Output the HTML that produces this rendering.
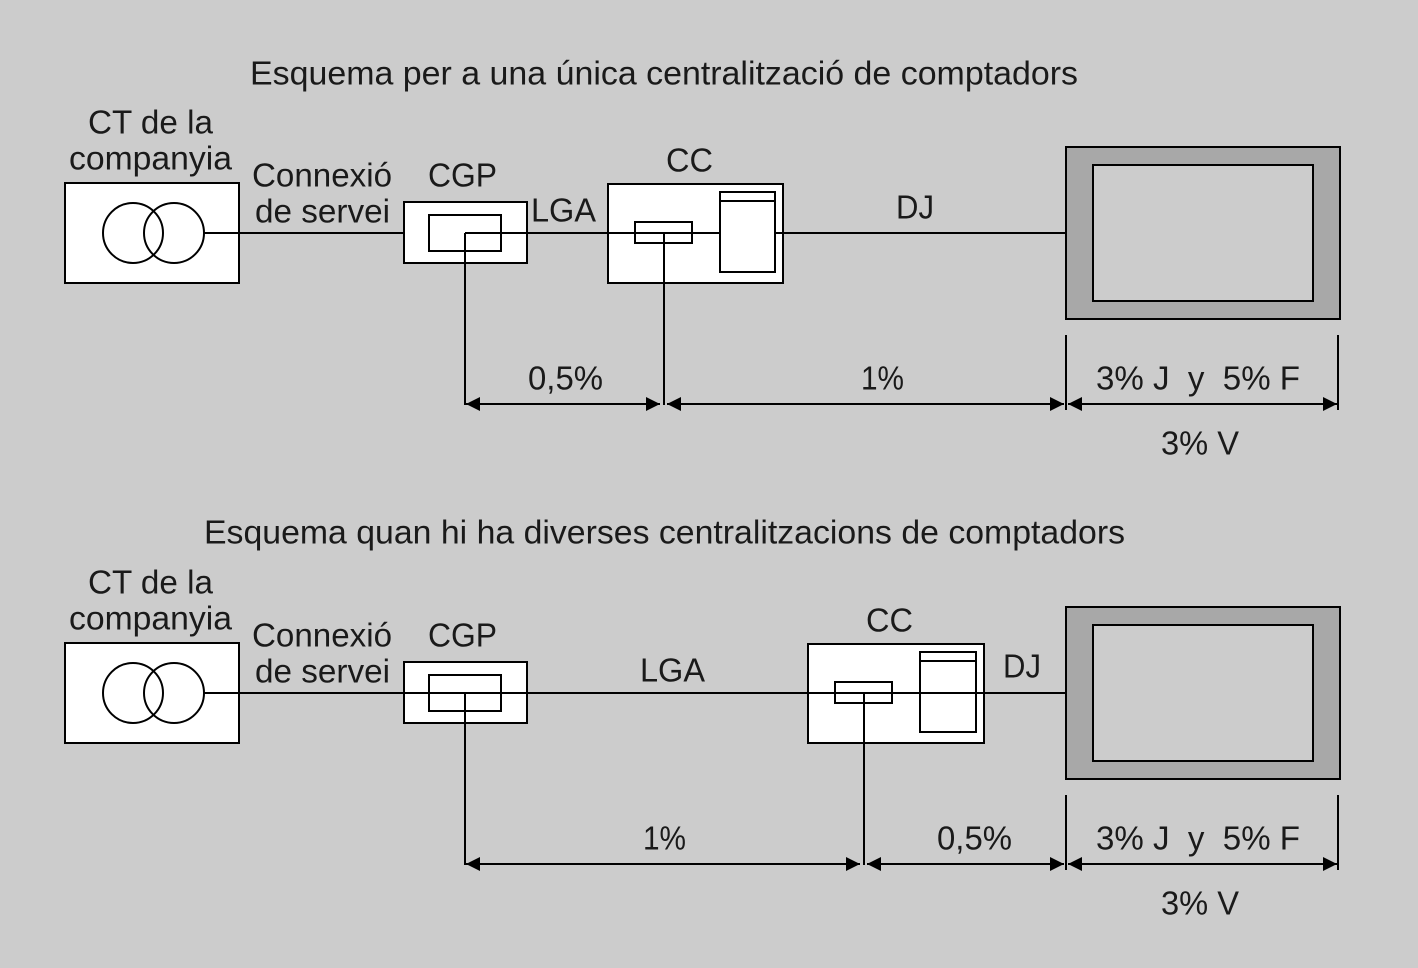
<!DOCTYPE html>
<html><head><meta charset="utf-8"><style>
html,body{margin:0;padding:0;background:#cccccc;}
svg{display:block}
text{font-family:"Liberation Sans",sans-serif;font-size:33px;fill:#1a1a1a;dominant-baseline:central}
</style></head><body>
<svg width="1418" height="968" viewBox="0 0 1418 968" xmlns="http://www.w3.org/2000/svg">
<defs>
<marker id="a" viewBox="0 0 10 10" refX="10" refY="5" markerWidth="14" markerHeight="14" markerUnits="userSpaceOnUse" orient="auto-start-reverse"><path d="M0,0L10,5L0,10z" fill="#000"/></marker>
</defs>
<rect width="1418" height="968" fill="#cccccc"/>
<g stroke="#000" stroke-width="2" fill="none">
<rect x="65" y="183" width="174" height="100" fill="#fff"/>
<circle cx="133" cy="233" r="30"/><circle cx="174" cy="233" r="30"/>
<line x1="204" y1="233" x2="1066" y2="233"/>
<rect x="404" y="202" width="123" height="61" fill="#fff"/>
<rect x="429" y="215" width="72" height="36"/>
<line x1="465" y1="233" x2="1066" y2="233"/>
<line x1="465" y1="233" x2="465" y2="405"/>
<rect x="608" y="184" width="175" height="99" fill="#fff"/>
<line x1="608" y1="233" x2="783" y2="233"/>
<rect x="635" y="222" width="57" height="21"/>
<rect x="720" y="192" width="55" height="80" fill="#fff"/>
<line x1="720" y1="201" x2="775" y2="201"/>
<line x1="664" y1="233" x2="664" y2="405"/>
<line x1="783" y1="233" x2="1066" y2="233"/>
<rect x="1066" y="147" width="274" height="172" fill="#a8a8a8"/>
<rect x="1093" y="165" width="220" height="136" fill="#cccccc"/>
<line x1="1066" y1="335" x2="1066" y2="410"/>
<line x1="1338" y1="335" x2="1338" y2="410"/>
<line x1="466" y1="404" x2="660" y2="404" marker-start="url(#a)" marker-end="url(#a)"/>
<line x1="667" y1="404" x2="1064" y2="404" marker-start="url(#a)" marker-end="url(#a)"/>
<line x1="1068" y1="404" x2="1337" y2="404" marker-start="url(#a)" marker-end="url(#a)"/>
<rect x="65" y="643" width="174" height="100" fill="#fff"/>
<circle cx="133" cy="693" r="30"/><circle cx="174" cy="693" r="30"/>
<rect x="404" y="662" width="123" height="61" fill="#fff"/>
<rect x="429" y="675" width="72" height="36"/>
<rect x="808" y="644" width="176" height="99" fill="#fff"/>
<line x1="204" y1="693" x2="1066" y2="693"/>
<rect x="835" y="682" width="57" height="21"/>
<rect x="920" y="652" width="56" height="80" fill="#fff"/>
<line x1="920" y1="661" x2="976" y2="661"/>
<line x1="920" y1="693" x2="976" y2="693"/>
<line x1="465" y1="693" x2="465" y2="865"/>
<line x1="864" y1="693" x2="864" y2="865"/>
<rect x="1066" y="607" width="274" height="172" fill="#a8a8a8"/>
<rect x="1093" y="625" width="220" height="136" fill="#cccccc"/>
<line x1="1066" y1="795" x2="1066" y2="870"/>
<line x1="1338" y1="795" x2="1338" y2="870"/>
<line x1="466" y1="864" x2="860" y2="864" marker-start="url(#a)" marker-end="url(#a)"/>
<line x1="867" y1="864" x2="1064" y2="864" marker-start="url(#a)" marker-end="url(#a)"/>
<line x1="1068" y1="864" x2="1337" y2="864" marker-start="url(#a)" marker-end="url(#a)"/>
</g>
<g>
<text x="250" y="73" textLength="828" lengthAdjust="spacingAndGlyphs">Esquema per a una única centralització de comptadors</text>
<text x="88" y="122" textLength="125" lengthAdjust="spacingAndGlyphs">CT de la</text>
<text x="69" y="158" textLength="163" lengthAdjust="spacingAndGlyphs">companyia</text>
<text x="252" y="175" textLength="140" lengthAdjust="spacingAndGlyphs">Connexió</text>
<text x="255" y="211" textLength="135" lengthAdjust="spacingAndGlyphs">de servei</text>
<text x="428" y="175" textLength="69" lengthAdjust="spacingAndGlyphs">CGP</text>
<text x="531" y="210" textLength="65" lengthAdjust="spacingAndGlyphs">LGA</text>
<text x="666" y="160" textLength="47" lengthAdjust="spacingAndGlyphs">CC</text>
<text x="896" y="207" textLength="38" lengthAdjust="spacingAndGlyphs">DJ</text>
<text x="528" y="378" textLength="75" lengthAdjust="spacingAndGlyphs">0,5%</text>
<text x="861" y="378" textLength="43" lengthAdjust="spacingAndGlyphs">1%</text>
<text x="1096" y="378" textLength="204" lengthAdjust="spacingAndGlyphs" xml:space="preserve">3% J  y  5% F</text>
<text x="1161" y="443" textLength="78" lengthAdjust="spacingAndGlyphs">3% V</text>

<text x="204" y="532" textLength="921" lengthAdjust="spacingAndGlyphs">Esquema quan hi ha diverses centralitzacions de comptadors</text>
<text x="88" y="582" textLength="125" lengthAdjust="spacingAndGlyphs">CT de la</text>
<text x="69" y="618" textLength="163" lengthAdjust="spacingAndGlyphs">companyia</text>
<text x="252" y="635" textLength="140" lengthAdjust="spacingAndGlyphs">Connexió</text>
<text x="255" y="671" textLength="135" lengthAdjust="spacingAndGlyphs">de servei</text>
<text x="428" y="635" textLength="69" lengthAdjust="spacingAndGlyphs">CGP</text>
<text x="640" y="670" textLength="65" lengthAdjust="spacingAndGlyphs">LGA</text>
<text x="866" y="620" textLength="47" lengthAdjust="spacingAndGlyphs">CC</text>
<text x="1003" y="666" textLength="38" lengthAdjust="spacingAndGlyphs">DJ</text>
<text x="643" y="838" textLength="43" lengthAdjust="spacingAndGlyphs">1%</text>
<text x="937" y="838" textLength="75" lengthAdjust="spacingAndGlyphs">0,5%</text>
<text x="1096" y="838" textLength="204" lengthAdjust="spacingAndGlyphs" xml:space="preserve">3% J  y  5% F</text>
<text x="1161" y="903" textLength="78" lengthAdjust="spacingAndGlyphs">3% V</text>
</g>
</svg>
</body></html>
